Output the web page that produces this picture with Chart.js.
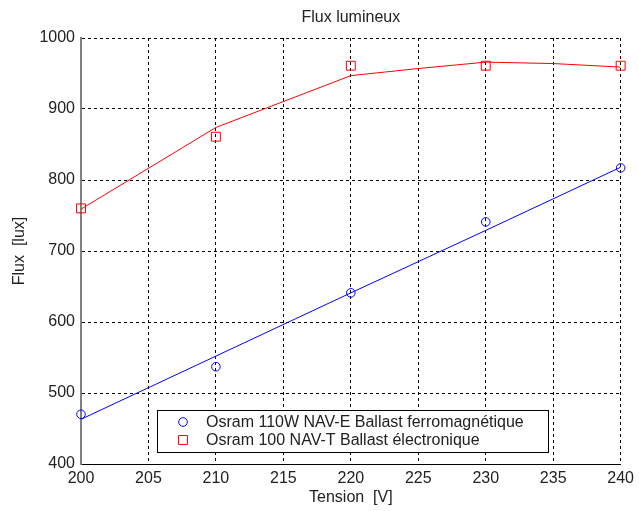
<!DOCTYPE html>
<html>
<head>
<meta charset="utf-8">
<script src="https://cdn.jsdelivr.net/npm/chart.js@4/dist/chart.umd.min.js"></script>
<style>
  html, body { margin: 0; padding: 0; background: #fff; }
  #wrap { width: 639px; height: 511px; }
</style>
</head>
<body>
<div id="wrap"><canvas id="fluxChart" width="639" height="511"></canvas></div>
<script>
// tensions mesurees
const tensions = [200, 210, 220, 230, 240];
// mesures
const fluxFerro = [470, 537, 641, 741, 817];
const fluxElec = [760, 861, 961, 961, 961];
// courbes d'ajustement
const fitFerroX = [200, 210, 220, 230, 240];
const fitFerroY = [463, 552, 641, 729, 818];
const fitElecX = [200, 210, 220, 225, 230, 235, 240];
const fitElecY = [759, 874, 947, 957, 966, 964, 959];

const titre = 'Flux lumineux';
const labelFerro = 'Osram 110W NAV-E Ballast ferromagnétique';
const labelElec = 'Osram 100 NAV-T Ballast électronique';

const police = '"Liberation Sans", Arial, sans-serif';
const texte = '#222';

function points(xs, ys) {
    return xs.map((x, i) => ({ x: x, y: ys[i] }));
}

// titre centre sur la zone du graphe + legende dedans (style matlab)
const decorMatlab = {
    id: 'decorMatlab',
    afterDatasetsDraw(chart) {
        const ctx = chart.ctx;
        const area = chart.chartArea;
        ctx.save();
        ctx.fillStyle = texte;
        ctx.font = '16px ' + police;
        ctx.textAlign = 'center';
        ctx.textBaseline = 'middle';
        ctx.fillText(titre, (area.left + area.right) / 2, 18);

        const items = [
            { text: labelFerro, ds: chart.data.datasets[0] },
            { text: labelElec, ds: chart.data.datasets[1] }
        ];
        ctx.fillStyle = '#fff';
        ctx.fillRect(157, 410, 391, 42);
        ctx.strokeStyle = '#000';
        ctx.lineWidth = 1;
        ctx.strokeRect(157.5, 410.5, 391, 42);
        ctx.font = '16px ' + police;
        ctx.textAlign = 'left';
        items.forEach((it, i) => {
            const y = 422 + i * 18;
            ctx.lineWidth = 1;
            ctx.strokeStyle = it.ds.borderColor;
            ctx.fillStyle = 'rgba(0,0,0,0)';
            Chart.helpers.drawPoint(ctx, {
                pointStyle: it.ds.pointStyle,
                radius: it.ds.pointRadius,
                borderWidth: 1
            }, 183, y);
            ctx.fillStyle = texte;
            ctx.fillText(it.text, 206, y + 1);
        });
        ctx.restore();
    }
};

const ctx = document.getElementById('fluxChart').getContext('2d');
const fluxChart = new Chart(ctx, {
    type: 'scatter',
    data: {
        datasets: [{
            label: labelFerro,
            data: points(tensions, fluxFerro),
            showLine: false,
            pointStyle: 'circle',
            pointRadius: 4.3,
            borderColor: '#0000ff',
            backgroundColor: 'rgba(0,0,0,0)',
            borderWidth: 1,
            clip: false
        }, {
            label: labelElec,
            data: points(tensions, fluxElec),
            showLine: false,
            pointStyle: 'rect',
            pointRadius: 6.3,
            borderColor: '#ff0000',
            backgroundColor: 'rgba(0,0,0,0)',
            borderWidth: 1,
            clip: false
        }, {
            label: 'fit ferro',
            data: points(fitFerroX, fitFerroY),
            showLine: true,
            pointRadius: 0,
            borderColor: '#0000ff',
            borderWidth: 1,
            tension: 0
        }, {
            label: 'fit elec',
            data: points(fitElecX, fitElecY),
            showLine: true,
            pointRadius: 0,
            borderColor: '#ff0000',
            borderWidth: 1,
            tension: 0
        }]
    },
    options: {
        responsive: false,
        animation: false,
        events: [],
        layout: { padding: { top: 38, right: 15, bottom: 0, left: 0 } },
        plugins: {
            legend: { display: false },
            tooltip: { enabled: false },
            title: { display: false }
        },
        scales: {
            x: {
                type: 'linear',
                min: 200,
                max: 240,
                afterFit(scale) { scale.height = 47; },
                ticks: {
                    stepSize: 5,
                    padding: 5,
                    color: texte,
                    font: { family: police, size: 16 },
                    maxRotation: 0,
                    callback: v => String(v)
                },
                grid: { color: '#000', lineWidth: 1, drawTicks: false },
                border: { display: true, color: '#000', width: 1, dash: [3, 3] },
                title: {
                    display: true,
                    text: 'Tension  [V]',
                    color: texte,
                    font: { family: police, size: 16, lineHeight: 1.2 },
                    padding: { top: 0, bottom: 4 }
                }
            },
            y: {
                type: 'linear',
                min: 400,
                max: 1000,
                afterFit(scale) { scale.width = 81; },
                ticks: {
                    stepSize: 100,
                    padding: 6,
                    color: texte,
                    font: { family: police, size: 16 },
                    callback: v => String(v)
                },
                grid: { color: '#000', lineWidth: 1, drawTicks: false },
                border: { display: true, color: '#808080', width: 2, dash: [3, 3] },
                title: {
                    display: true,
                    text: 'Flux  [lux]',
                    color: texte,
                    font: { family: police, size: 16, lineHeight: 1.2 },
                    padding: { top: 10, bottom: 0 }
                }
            }
        }
    },
    plugins: [decorMatlab]
});
</script>
</body>
</html>
